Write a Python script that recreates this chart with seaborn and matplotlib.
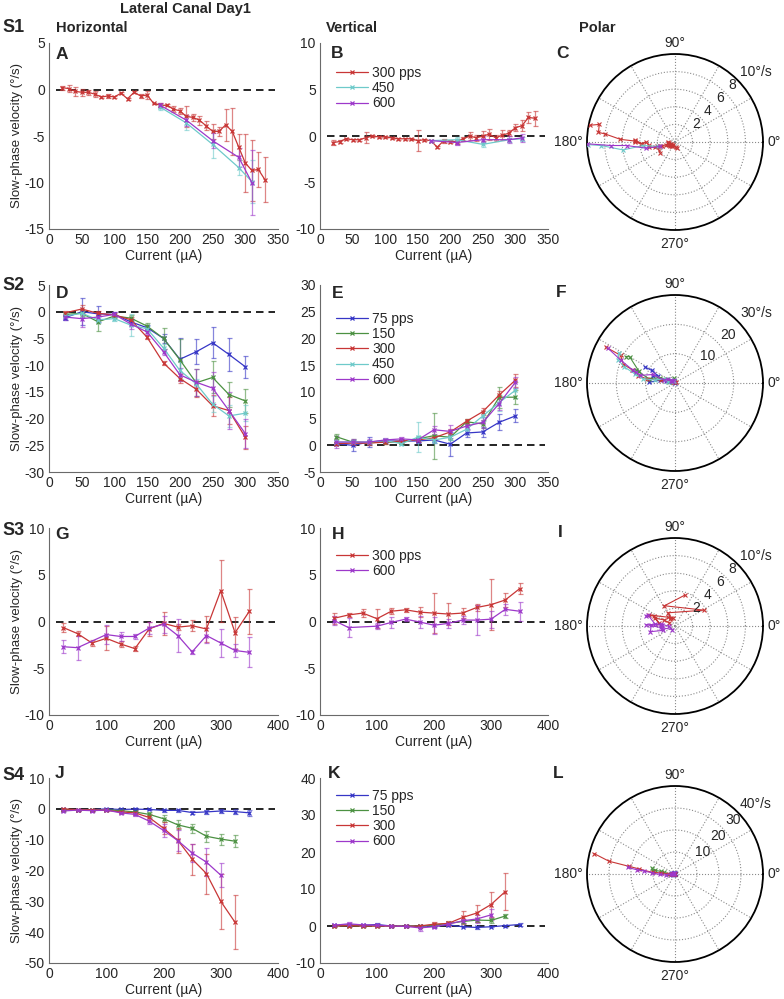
import numpy as np
import pandas as pd
import matplotlib
matplotlib.use("Agg")
import matplotlib.pyplot as plt
from matplotlib.lines import Line2D
import seaborn as sns

# ---------------- data ----------------
# S1 (currents in uA)
s1_x300 = [20, 30, 40, 50, 60, 70, 80, 90, 100, 110, 120, 130, 140, 150, 160, 170,
           180, 190, 200, 210, 220, 230, 240, 250, 260, 270, 280, 290, 300, 310, 320, 330]
s1_h300 = [0.2, 0.1, -0.2, -0.3, -0.3, -0.5, -0.8, -0.7, -0.8, -0.4, -1.0, -0.3, -0.7, -0.6, -1.5, -1.7,
           -1.7, -2.1, -2.3, -2.9, -3.0, -3.3, -3.9, -4.5, -4.5, -3.8, -4.5, -6.2, -7.9, -8.7, -8.6, -9.7]
s1_h300_err = [0.2, 0.4, 0.5, 0.4, 0.3, 0.3, 0.1, 0.2, 0.1, 0.1, 0.1, 0.1, 0.2, 0.4, 0.1, 0.2,
               0.1, 0.3, 0.3, 1.1, 0.4, 0.5, 0.5, 0.8, 0.5, 1.7, 2.5, 1.4, 3.1, 3.3, 1.9, 2.4]
s1_v300 = [-0.7, -0.6, -0.3, -0.4, -0.4, -0.2, 0.0, -0.1, -0.1, -0.2, -0.3, -0.3, -0.3, -0.5, -0.4, -0.5,
           -1.2, -0.5, -0.6, -0.6, -0.3, 0.0, -0.2, 0.0, 0.2, -0.2, 0.1, 0.3, 0.9, 1.1, 2.0, 1.9]
s1_v300_err = [0.3, 0.2, 0.1, 0.1, 0.1, 0.6, 0.1, 0.1, 0.1, 0.1, 0.1, 0.1, 0.1, 1.1, 0.1, 0.1,
               0.1, 0.2, 0.2, 0.3, 0.2, 0.4, 0.3, 0.5, 0.6, 0.3, 0.5, 0.3, 0.4, 0.6, 0.6, 0.8]
s1_x450 = [170, 210, 250, 290, 310]
s1_h450 = [-1.9, -3.6, -5.9, -8.4, -9.9]
s1_h450_err = [0.3, 0.8, 1.5, 0.8, 2.3]
s1_v450 = [-0.5, -0.4, -0.9, -0.4, -0.3]
s1_v450_err = [0.1, 0.3, 0.3, 0.2, 0.2]
s1_x600 = [170, 210, 250, 290, 310]
s1_h600 = [-1.7, -3.3, -5.5, -7.3, -10.0]
s1_h600_err = [0.3, 0.6, 0.8, 1.0, 3.5]
s1_v600 = [-0.5, -0.7, -0.4, -0.4, -0.2]
s1_v600_err = [0.1, 0.3, 0.4, 0.4, 0.4]

# S2
s2_x = [25, 50, 75, 100, 125, 150, 175, 200, 225, 250, 275, 300]
s2_h75 = [-1.1, 0.0, -0.4, -0.5, -1.9, -3.0, -5.0, -8.9, -7.5, -5.8, -8.0, -10.3]
s2_h150 = [-0.5, -0.3, -1.9, -0.8, -1.2, -2.7, -5.0, -9.0, -13.3, -12.3, -15.5, -16.7]
s2_h300 = [-0.2, 0.5, -0.3, -0.6, -1.5, -4.8, -9.6, -12.5, -14.5, -17.6, -18.5, -23.5]
s2_h450 = [-0.8, -0.3, -1.5, -1.3, -2.5, -3.2, -6.8, -11.0, -13.5, -17.3, -19.5, -19.0]
s2_h600 = [-1.0, -1.3, -1.0, -0.5, -2.3, -3.8, -7.5, -11.8, -13.2, -14.3, -18.5, -22.8]
s2_h75_err = [0.5, 2.5, 1.5, 0.4, 0.5, 0.6, 0.8, 3.9, 2.3, 2.9, 3.1, 2.1]
s2_h150_err = [0.4, 0.5, 1.7, 0.4, 0.5, 0.5, 2.0, 3.8, 2.5, 3.0, 2.4, 2.2]
s2_h300_err = [0.3, 0.7, 0.4, 0.3, 0.5, 0.4, 0.4, 0.8, 1.5, 2.0, 2.5, 2.2]
s2_h450_err = [0.4, 0.6, 0.6, 0.4, 2.0, 0.6, 0.8, 1.5, 1.0, 1.5, 2.0, 1.5]
s2_h600_err = [0.5, 1.5, 0.6, 0.4, 1.0, 0.6, 0.6, 1.2, 2.5, 3.0, 3.5, 2.8]
s2_v75 = [0.3, 0.0, 0.6, 0.8, 0.8, 0.8, 1.0, 0.2, 2.3, 2.5, 4.3, 5.5]
s2_v150 = [1.6, 0.6, 0.5, 0.6, 0.6, 1.2, 1.8, 1.5, 4.4, 4.0, 9.0, 9.0]
s2_v300 = [0.3, 0.4, 0.4, 0.6, 0.8, 1.0, 1.4, 2.5, 4.5, 6.3, 9.4, 12.2]
s2_v450 = [0.6, 0.6, 0.6, 0.9, 0.3, 1.5, 1.0, 1.5, 3.0, 5.5, 8.0, 10.3]
s2_v600 = [0.6, 0.6, 0.6, 1.0, 1.2, 1.0, 2.9, 2.6, 3.6, 4.3, 7.8, 11.8]
s2_v75_err = [0.3, 1.0, 1.0, 0.3, 0.3, 0.4, 0.5, 2.2, 0.8, 1.0, 1.5, 1.2]
s2_v150_err = [0.5, 0.5, 0.3, 0.3, 0.3, 0.5, 4.3, 0.6, 0.6, 0.8, 2.0, 1.3]
s2_v300_err = [0.2, 0.3, 0.3, 0.3, 0.3, 0.3, 0.3, 0.5, 0.5, 0.6, 0.7, 1.2]
s2_v450_err = [0.3, 0.3, 0.3, 0.3, 0.3, 2.8, 0.5, 0.5, 0.8, 1.0, 1.5, 1.5]
s2_v600_err = [1.2, 0.5, 0.5, 0.4, 0.3, 0.4, 0.8, 1.2, 0.8, 1.0, 1.2, 1.0]

# S3
s3_x300 = [25, 50, 75, 100, 125, 150, 175, 200, 225, 250, 275, 300, 325, 350]
s3_h300 = [-0.65, -1.3, -2.3, -1.8, -2.4, -2.9, -0.8, -0.2, -0.6, -0.45, -0.8, 3.3, -1.2, 1.1]
s3_h300_err = [0.5, 0.3, 0.3, 1.3, 0.3, 0.3, 0.8, 1.2, 0.3, 0.6, 1.4, 3.3, 1.7, 2.4]
s3_v300 = [0.35, 0.7, 0.9, 0.3, 1.1, 1.25, 1.0, 0.9, 0.8, 0.9, 1.5, 1.8, 2.3, 3.5]
s3_v300_err = [0.6, 0.2, 0.4, 1.0, 0.3, 0.2, 0.5, 2.1, 1.2, 0.5, 0.4, 2.7, 0.7, 0.6]
s3_x600 = [25, 50, 100, 125, 150, 175, 200, 225, 250, 275, 300, 325, 350]
s3_h600 = [-2.7, -2.8, -1.4, -1.6, -1.6, -0.7, -0.3, -1.5, -3.25, -1.5, -2.3, -3.1, -3.3]
s3_h600_err = [0.7, 1.3, 1.0, 0.5, 0.3, 0.6, 0.9, 1.8, 0.2, 0.8, 1.5, 0.7, 1.6]
s3_v600 = [0.1, -0.65, -0.5, -0.1, 0.25, -0.05, -0.4, -0.2, 0.15, 0.15, 0.25, 1.3, 1.1]
s3_v600_err = [0.5, 1.0, 0.3, 0.6, 0.2, 0.6, 0.9, 0.5, 0.4, 1.6, 0.9, 0.6, 1.0]

# S4
s4_x75 = [25, 50, 75, 100, 125, 150, 175, 200, 225, 250, 275, 300, 325, 350]
s4_h75 = [-0.2, -0.3, -0.3, 0.0, -0.2, -0.1, -0.2, -0.5, -0.5, -1.2, -1.0, -0.7, -0.9, -1.3]
s4_h75_err = [0.3, 0.3, 0.3, 0.3, 0.3, 0.3, 0.3, 0.4, 0.4, 0.5, 0.6, 0.5, 0.8, 1.0]
s4_v75 = [0.2, 0.3, 0.2, 0.4, 0.0, 0.0, 0.0, -0.1, 0.3, -0.2, -0.4, -0.2, 0.1, 0.4]
s4_v75_err = [0.2, 0.3, 0.2, 0.3, 0.2, 0.2, 0.2, 0.2, 0.2, 0.2, 0.3, 0.2, 0.3, 0.3]
s4_x150 = [25, 50, 75, 100, 125, 150, 175, 200, 225, 250, 275, 300, 325]
s4_h150 = [-0.3, -0.3, -0.5, -0.3, -0.6, -1.0, -1.8, -3.2, -5.2, -6.3, -8.9, -9.8, -10.5]
s4_h150_err = [0.3, 0.3, 0.3, 0.3, 0.5, 0.5, 0.8, 1.2, 1.5, 1.5, 1.8, 1.8, 2.0]
s4_v150 = [0.0, 0.1, 0.0, 0.0, 0.0, 0.0, 0.0, 0.2, 0.7, 1.2, 1.6, 1.5, 2.7]
s4_v150_err = [0.2, 0.2, 0.2, 0.2, 0.2, 0.2, 0.2, 0.3, 0.3, 0.5, 0.4, 0.6, 0.6]
s4_x300 = [25, 50, 75, 100, 125, 150, 175, 200, 225, 250, 275, 300, 325]
s4_h300 = [0.0, -0.3, -0.3, -0.5, -1.0, -1.3, -2.8, -6.3, -10.2, -16.3, -21.0, -30.0, -36.8]
s4_h300_err = [0.3, 0.3, 0.3, 0.3, 0.5, 0.6, 1.2, 2.0, 4.0, 5.0, 6.5, 9.0, 8.8]
s4_v300 = [0.0, 0.1, 0.0, 0.0, 0.0, -0.1, 0.0, 0.5, 0.7, 2.3, 3.5, 5.8, 9.3]
s4_v300_err = [0.2, 0.3, 0.2, 0.2, 0.2, 0.3, 0.3, 0.5, 0.6, 1.8, 2.3, 3.5, 5.0]
s4_x600 = [25, 50, 75, 100, 125, 150, 175, 200, 225, 250, 275, 300]
s4_h600 = [-0.7, -0.4, -0.6, -0.4, -1.3, -1.8, -4.0, -7.0, -10.3, -14.3, -17.3, -21.5]
s4_h600_err = [0.3, 0.3, 0.3, 0.3, 0.5, 0.6, 1.0, 2.0, 3.5, 3.0, 4.5, 4.0]
s4_v600 = [0.2, 0.6, 0.3, 0.2, 0.0, -0.1, -0.5, -0.2, 0.5, 1.4, 1.9, 3.0]
s4_v600_err = [0.2, 0.5, 0.3, 0.2, 0.2, 0.3, 0.8, 0.4, 0.4, 0.6, 1.0, 1.5]

# polar angle labels
theta_labels = ['0°', '90°', '180°', '270°']

# ---------------- styling ----------------
W, H = 784, 999
sns.set_style("white")
plt.rcParams['font.family'] = ['Liberation Sans', 'DejaVu Sans']
plt.rcParams['axes.unicode_minus'] = False

COL = {'75': '#3636c6', '150': '#4c9142', '300': '#c83636', '450': '#6ecaca', '600': '#9d38ca'}
FS_TICK = 10
FS_LAB = 9.5

fig = plt.figure(figsize=(W / 100, H / 100), dpi=100)


def rect(l, t, r, b):
    return [l / W, 1 - b / H, (r - l) / W, (b - t) / H]


def ftext(x, y, s, **kw):
    fig.text(x / W, 1 - y / H, s, **kw)


def cart_panel(box, series, xlim, xticks, ylim, yticks, ylabel, legend=None):
    ax = fig.add_axes(rect(*box))
    ax.axhline(0, xmin=0.03, xmax=0.985, color='k', ls=(0, (4.5, 3)), lw=1.2, zorder=1)
    for freq, x, y, e in series:
        c = COL[freq]
        ax.errorbar(x, y, yerr=e, fmt='none', ecolor=c, alpha=0.6, elinewidth=0.9,
                    capsize=1.8, capthick=0.9, zorder=2)
        sns.lineplot(x=x, y=y, ax=ax, color=c, marker='x', markersize=3.5, mec=c, mew=0.9,
                     lw=0.9, estimator=None, sort=False, zorder=3)
    ax.set_xlim(*xlim)
    ax.set_ylim(*ylim)
    ax.set_xticks(xticks)
    ax.set_yticks(yticks)
    for s in ['top', 'right']:
        ax.spines[s].set_visible(False)
    for s in ['left', 'bottom']:
        ax.spines[s].set_color('#6a6a6a')
        ax.spines[s].set_linewidth(0.8)
    ax.tick_params(direction='in', length=2.5, width=0.6, color='#6a6a6a', labelsize=FS_TICK, pad=3)
    ax.set_xlabel('Current (µA)', fontsize=FS_TICK, labelpad=1)
    ax.set_ylabel('Slow-phase velocity (°/s)' if ylabel else '', fontsize=FS_LAB, labelpad=1)
    if legend is not None:
        labels, anchor = legend
        handles = [Line2D([], [], color=COL[f], marker='x', markersize=3.5, mec=COL[f], mew=0.9, lw=0.9)
                   for f in labels]
        texts = [labels[0] + ' pps'] + list(labels[1:])
        ax.legend(handles, texts, loc='upper left', bbox_to_anchor=anchor, frameon=False,
                  fontsize=10, handlelength=2.3, handletextpad=0.3, labelspacing=0.08,
                  borderpad=0, borderaxespad=0)
    return ax


def polar_panel(cx, cy, series, rmax, rticks, rlabels):
    R = 88
    pax = fig.add_axes(rect(cx - R, cy - R, cx + R, cy + R), projection='polar')
    for freq, h, v in series:
        c = COL[freq]
        h = np.asarray(h, float)
        v = np.asarray(v, float)
        th = np.arctan2(v, h)
        r = np.hypot(h, v)
        sns.lineplot(x=th, y=r, ax=pax, color=c, marker='x', markersize=3, mec=c, mew=0.8,
                     lw=0.8, estimator=None, sort=False, zorder=3)
    pax.set_ylim(0, rmax)
    pax.set_rgrids(rticks, labels=[''] * len(rticks))
    pax.set_thetagrids(np.arange(0, 360, 30), labels=[''] * 12)
    pax.grid(True, ls=':', color='#8a8a8a', lw=0.8)
    pax.spines['polar'].set_linewidth(1.3)
    pax.spines['polar'].set_color('k')
    pax.set_xlabel('')
    pax.set_ylabel('')
    for t, lab in zip(rticks, rlabels):
        pax.text(np.deg2rad(47), t + 0.085 * rmax, lab, ha='left', va='center', fontsize=FS_TICK)
    # angle labels around the circle
    ftext(cx + R + 4, cy, theta_labels[0], ha='left', va='center', fontsize=FS_TICK)
    ftext(cx, cy - R - 7, theta_labels[1], ha='center', va='baseline', fontsize=FS_TICK)
    ftext(cx - R - 4, cy, theta_labels[2], ha='right', va='center', fontsize=FS_TICK)
    ftext(cx, cy + R + 7, theta_labels[3], ha='center', va='top', fontsize=FS_TICK)
    return pax


col1 = (49, 278)
col2 = (320, 548)
rows = [(43, 229), (285, 472), (528, 715), (778, 963)]
PCX = 675
pcy = [142, 383, 626, 874]

# ---- S1 ----
cart_panel((col1[0], rows[0][0], col1[1], rows[0][1]),
           [('300', s1_x300, s1_h300, s1_h300_err), ('450', s1_x450, s1_h450, s1_h450_err),
            ('600', s1_x600, s1_h600, s1_h600_err)],
           (0, 350), range(0, 351, 50), (-15, 5), range(-15, 6, 5), True)
cart_panel((col2[0], rows[0][0], col2[1], rows[0][1]),
           [('300', s1_x300, s1_v300, s1_v300_err), ('450', s1_x450, s1_v450, s1_v450_err),
            ('600', s1_x600, s1_v600, s1_v600_err)],
           (0, 350), range(0, 351, 50), (-10, 10), range(-10, 11, 5), False,
           legend=(['300', '450', '600'], (0.07, 0.875)))
polar_panel(PCX, pcy[0], [('300', s1_h300, s1_v300), ('450', s1_h450, s1_v450), ('600', s1_h600, s1_v600)],
            10, [2, 4, 6, 8, 10], ['2', '4', '6', '8', '10°/s'])

# ---- S2 ----
cart_panel((col1[0], rows[1][0], col1[1], rows[1][1]),
           [('75', s2_x, s2_h75, s2_h75_err), ('150', s2_x, s2_h150, s2_h150_err),
            ('300', s2_x, s2_h300, s2_h300_err), ('450', s2_x, s2_h450, s2_h450_err),
            ('600', s2_x, s2_h600, s2_h600_err)],
           (0, 350), range(0, 351, 50), (-30, 5), range(-30, 6, 5), True)
cart_panel((col2[0], rows[1][0], col2[1], rows[1][1]),
           [('75', s2_x, s2_v75, s2_v75_err), ('150', s2_x, s2_v150, s2_v150_err),
            ('300', s2_x, s2_v300, s2_v300_err), ('450', s2_x, s2_v450, s2_v450_err),
            ('600', s2_x, s2_v600, s2_v600_err)],
           (0, 350), range(0, 351, 50), (-5, 30), range(-5, 31, 5), False,
           legend=(['75', '150', '300', '450', '600'], (0.07, 0.855)))
polar_panel(PCX, pcy[1], [('75', s2_h75, s2_v75), ('150', s2_h150, s2_v150), ('300', s2_h300, s2_v300),
                          ('450', s2_h450, s2_v450), ('600', s2_h600, s2_v600)],
            30, [10, 20, 30], ['10', '20', '30°/s'])

# ---- S3 ----
cart_panel((col1[0], rows[2][0], col1[1], rows[2][1]),
           [('300', s3_x300, s3_h300, s3_h300_err), ('600', s3_x600, s3_h600, s3_h600_err)],
           (0, 400), range(0, 401, 100), (-10, 10), range(-10, 11, 5), True)
cart_panel((col2[0], rows[2][0], col2[1], rows[2][1]),
           [('300', s3_x300, s3_v300, s3_v300_err), ('600', s3_x600, s3_v600, s3_v600_err)],
           (0, 400), range(0, 401, 100), (-10, 10), range(-10, 11, 5), False,
           legend=(['300', '600'], (0.07, 0.887)))
polar_panel(PCX, pcy[2], [('300', s3_h300, s3_v300), ('600', s3_h600, s3_v600)],
            10, [2, 4, 6, 8, 10], ['2', '4', '6', '8', '10°/s'])

# ---- S4 ----
cart_panel((col1[0], rows[3][0], col1[1], rows[3][1]),
           [('75', s4_x75, s4_h75, s4_h75_err), ('150', s4_x150, s4_h150, s4_h150_err),
            ('300', s4_x300, s4_h300, s4_h300_err), ('600', s4_x600, s4_h600, s4_h600_err)],
           (0, 400), range(0, 401, 100), (-50, 10), range(-50, 11, 10), True)
cart_panel((col2[0], rows[3][0], col2[1], rows[3][1]),
           [('75', s4_x75, s4_v75, s4_v75_err), ('150', s4_x150, s4_v150, s4_v150_err),
            ('300', s4_x300, s4_v300, s4_v300_err), ('600', s4_x600, s4_v600, s4_v600_err)],
           (0, 400), range(0, 401, 100), (-10, 40), range(-10, 41, 10), False,
           legend=(['75', '150', '300', '600'], (0.07, 0.94)))
polar_panel(PCX, pcy[3], [('75', s4_h75, s4_v75), ('150', s4_h150, s4_v150), ('300', s4_h300, s4_v300),
                          ('600', s4_h600, s4_v600)],
            40, [10, 20, 30, 40], ['10', '20', '30', '40°/s'])

# ---------------- texts ----------------
ftext(185, 13, 'Lateral Canal Day1', ha='center', va='baseline', fontsize=10.5, weight='bold')
ftext(56, 32, 'Horizontal', ha='left', va='baseline', fontsize=10.5, weight='bold')
ftext(326, 32, 'Vertical', ha='left', va='baseline', fontsize=10.5, weight='bold')
ftext(579, 32, 'Polar', ha='left', va='baseline', fontsize=10.5, weight='bold')
for lab, yb in zip(['S1', 'S2', 'S3', 'S4'], [32, 290, 535, 780]):
    ftext(2, yb, lab, ha='left', va='baseline', fontsize=13, weight='bold')
letters = [('A', 56, 59), ('B', 331, 58), ('C', 556, 58),
           ('D', 56, 298), ('E', 332, 298), ('F', 556, 297),
           ('G', 55, 539), ('H', 332, 539), ('I', 558, 537),
           ('J', 55, 778), ('K', 328, 778), ('L', 553, 778)]
for s, x, y in letters:
    ftext(x, y, s, ha='left', va='baseline', fontsize=12.5, weight='bold')

fig.savefig('out.png', dpi=100)
